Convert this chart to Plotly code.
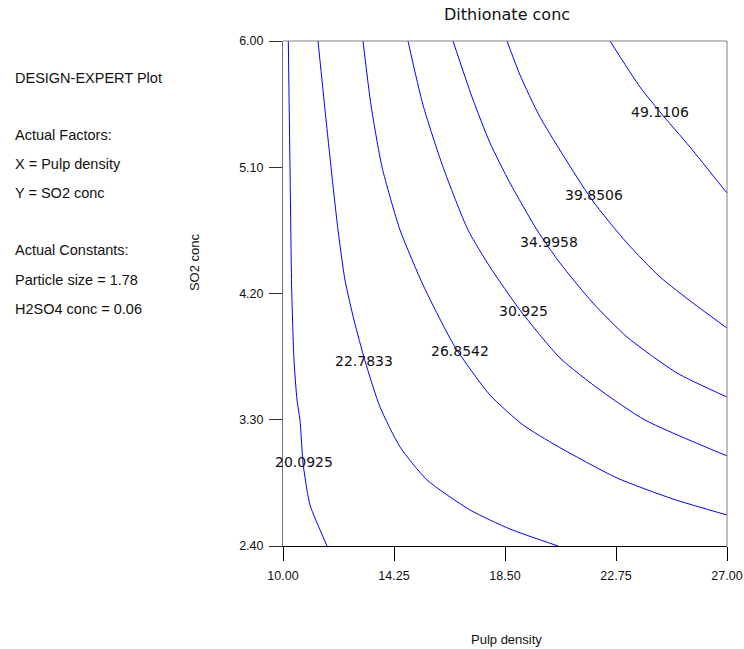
import plotly.graph_objects as go

# ---- data (Pulp density vs SO2 conc contours) ----
levels = ["20.0925", "22.7833", "26.8542", "30.925", "34.9958", "39.8506", "49.1106"]

c1_x = [10.203, 10.268, 10.333, 10.421, 10.536, 10.651, 10.766, 10.919, 11.034, 11.225, 11.455, 11.685]
c1_y = [6.0, 5.102, 4.225, 3.726, 3.441, 3.298, 2.992, 2.799, 2.692, 2.599, 2.499, 2.400]

c2_x = [11.340, 11.570, 11.838, 12.106, 12.374, 12.718, 13.140, 13.714, 14.480, 15.514, 17.160, 18.691, 20.529]
c2_y = [6.0, 5.579, 5.102, 4.653, 4.296, 4.011, 3.719, 3.391, 3.106, 2.871, 2.657, 2.521, 2.400]

c3_x = [13.063, 13.369, 13.791, 14.480, 15.399, 16.586, 17.926, 19.189, 20.491, 22.788, 24.932, 27.0]
c3_y = [6.0, 5.544, 5.102, 4.653, 4.246, 3.819, 3.476, 3.263, 3.113, 2.885, 2.735, 2.621]

c4_x = [14.786, 15.360, 16.126, 17.083, 17.926, 19.074, 20.606, 22.138, 23.861, 27.0]
c4_y = [6.0, 5.544, 5.102, 4.653, 4.389, 4.082, 3.740, 3.512, 3.298, 3.042]

c5_x = [16.509, 17.236, 17.926, 18.691, 19.725, 20.606, 21.869, 23.171, 25.086, 27.0]
c5_y = [6.0, 5.601, 5.273, 4.988, 4.653, 4.417, 4.132, 3.890, 3.633, 3.462]

c6_x = [18.577, 19.074, 19.840, 21.831, 23.171, 24.435, 25.698, 27.0]
c6_y = [6.0, 5.758, 5.458, 4.867, 4.560, 4.318, 4.132, 3.954]

c7_x = [22.520, 23.669, 24.435, 25.583, 27.0]
c7_y = [6.0, 5.672, 5.494, 5.244, 4.916]

label_x = [10.804, 13.101, 16.777, 19.189, 20.185, 21.908, 24.435]
label_y = [2.999, 3.719, 3.790, 4.075, 4.567, 4.902, 5.494]

x_ticks = [10.00, 14.25, 18.50, 22.75, 27.00]
x_ticktext = ["10.00", "14.25", "18.50", "22.75", "27.00"]
y_ticks = [2.40, 3.30, 4.20, 5.10, 6.00]
y_ticktext = ["2.40", "3.30", "4.20", "5.10", "6.00"]

info_lines = ["DESIGN-EXPERT Plot", "Actual Factors:", "X = Pulp density", "Y = SO2 conc",
              "Actual Constants:", "Particle size = 1.78", "H2SO4 conc = 0.06"]
info_y = [0.9267, 0.8139, 0.7564, 0.6990, 0.5861, 0.5267, 0.4693]

contours = [(c1_x, c1_y), (c2_x, c2_y), (c3_x, c3_y), (c4_x, c4_y),
            (c5_x, c5_y), (c6_x, c6_y), (c7_x, c7_y)]

ARIAL = "Liberation Sans, Arial, sans-serif"
DEJAVU = "DejaVu Sans, sans-serif"

fig = go.Figure()
for (cx, cy), lev in zip(contours, levels):
    fig.add_trace(go.Scatter(x=cx, y=cy, mode="lines", name=lev,
                             line=dict(color="#0000FF", width=1, shape="spline", smoothing=0.6),
                             hoverinfo="skip", showlegend=False))

annotations = []
for lx, ly, lev in zip(label_x, label_y, levels):
    annotations.append(dict(x=lx, y=ly, xref="x", yref="y", text=lev, showarrow=False,
                            xanchor="center", yanchor="middle",
                            font=dict(family=DEJAVU, size=14, color="#111111")))

for t, yy in zip(info_lines, info_y):
    annotations.append(dict(x=-0.6081, y=yy, xref="paper", yref="paper", text=t, showarrow=False,
                            xanchor="left", yanchor="middle",
                            font=dict(family=ARIAL, size=14.5, color="#111111")))

annotations.append(dict(x=0.5045, y=1.0515, xref="paper", yref="paper", text="Dithionate conc",
                        showarrow=False, xanchor="center", yanchor="middle",
                        font=dict(family=DEJAVU, size=16, color="#111111")))
annotations.append(dict(x=0.5045, y=-0.186, xref="paper", yref="paper", text="Pulp density",
                        showarrow=False, xanchor="center", yanchor="middle",
                        font=dict(family=ARIAL, size=13, color="#111111")))
annotations.append(dict(x=-0.198, y=0.5624, xref="paper", yref="paper", text="SO2 conc",
                        showarrow=False, xanchor="center", yanchor="middle", textangle=-90,
                        font=dict(family=ARIAL, size=13, color="#111111")))

fig.update_layout(
    width=744, height=649,
    margin=dict(l=283, r=17, t=41, b=103, pad=0, autoexpand=False),
    paper_bgcolor="white", plot_bgcolor="white",
    showlegend=False, hovermode=False,
    annotations=annotations,
    shapes=[
        dict(type="line", xref="paper", yref="paper", x0=0, x1=1, y0=1, y1=1,
             line=dict(color="#808080", width=1)),
        dict(type="line", xref="paper", yref="paper", x0=1, x1=1, y0=0, y1=1,
             line=dict(color="#808080", width=1)),
    ],
)
fig.update_xaxes(range=[10, 27], tickvals=x_ticks, ticktext=x_ticktext, automargin=False,
                 showgrid=False, zeroline=False, showline=True, linecolor="#000000", linewidth=1,
                 ticks="outside", ticklen=14, tickcolor="#000000", tickwidth=1,
                 ticklabelstandoff=4,
                 tickfont=dict(family=ARIAL, size=12.5, color="#111111"))
fig.update_yaxes(range=[2.4, 6.0], tickvals=y_ticks, ticktext=y_ticktext, automargin=False,
                 showgrid=False, zeroline=False, showline=True, linecolor="#707070", linewidth=1,
                 ticks="outside", ticklen=13, tickcolor="#333333", tickwidth=1,
                 ticklabelstandoff=3,
                 tickfont=dict(family=ARIAL, size=12.5, color="#111111"))

fig.write_html("out.html", config={"displayModeBar": False})
